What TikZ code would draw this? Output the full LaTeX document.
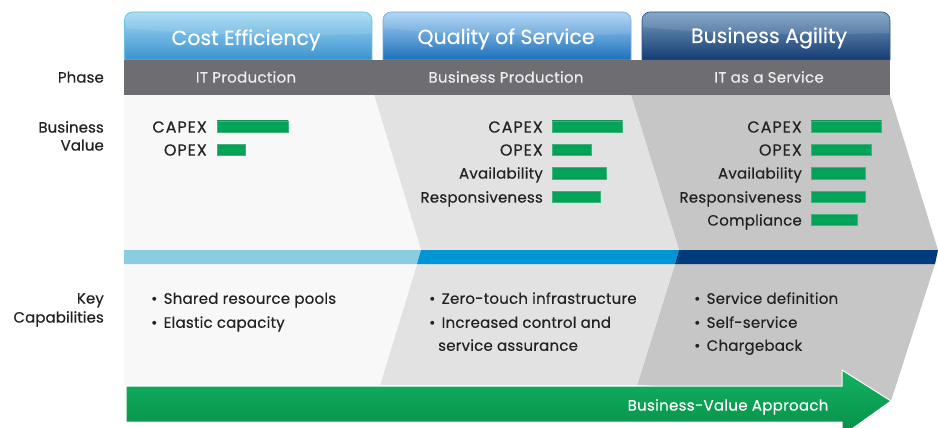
\documentclass[tikz,border=0pt]{standalone}
\usepackage{fontspec}
\setmainfont{Poppins}[FakeBold=0.4]
\definecolor{valA}{HTML}{0A9A57}
\definecolor{valB}{HTML}{0A9A55}
\definecolor{valC}{HTML}{00A85A}
\definecolor{valE}{HTML}{3DB57B}
\definecolor{barGrey}{HTML}{6E6D72}
\definecolor{panelA}{HTML}{F8F8F8}
\definecolor{panelB}{HTML}{E2E2E2}
\definecolor{panelC}{HTML}{C6C6C6}
\definecolor{stripA}{HTML}{8BCCE0}
\definecolor{stripB}{HTML}{0096D6}
\definecolor{stripC}{HTML}{003C7D}
\definecolor{labelGrey}{HTML}{EDEDED}
\definecolor{inkGrey}{HTML}{222222}
\definecolor{tabAt}{HTML}{A4DAF4}
\definecolor{tabAb}{HTML}{3A92CF}
\definecolor{tabAe}{HTML}{6CBDE6}
\definecolor{tabBt}{HTML}{AAD2F6}
\definecolor{tabBb}{HTML}{1B70BA}
\definecolor{tabBe}{HTML}{7FA6DC}
\definecolor{tabCt}{HTML}{7A9FC0}
\definecolor{tabCb}{HTML}{123B73}
\definecolor{tabCe}{HTML}{2F5590}
\definecolor{arrowT}{HTML}{12B260}
\definecolor{arrowB}{HTML}{078F48}
\tikzset{
  px/.style={x=1pt,y=-1pt},
  tabtext/.style={text=white,font=\fontsize{20.5}{22}\selectfont,inner sep=0pt,anchor=base,yshift=-7pt},
  phasetext/.style={text=#1,font=\fontsize{15}{17}\addfontfeatures{LetterSpace=2}\selectfont,inner sep=0pt,anchor=base,yshift=-5.6pt},
  rowlabel/.style={text=inkGrey,font=\fontsize{15}{17}\addfontfeatures{LetterSpace=.5}\selectfont,inner sep=0pt,anchor=base east,yshift=-5.6pt},
  metric/.style={text=inkGrey,font=\fontsize{15}{17}\addfontfeatures{LetterSpace=1.5}\selectfont,inner sep=0pt,anchor=base east,yshift=-5.6pt},
  capsmetric/.style={text=inkGrey,font=\fontsize{16}{17}\addfontfeatures{LetterSpace=6}\selectfont,inner sep=0pt,anchor=base east,yshift=-5.6pt},
  bullettext/.style={text=inkGrey,font=\fontsize{15}{17}\addfontfeatures{LetterSpace=1.5}\selectfont,inner sep=0pt,anchor=base west,yshift=-5.8pt},
  valuebar/.style={top color=valA,bottom color=valB,middle color=valC,draw=valE,line width=.5pt},
  gloss/.style={fill=white,fill opacity=.10},
}
\newcommand{\bul}{\makebox[12.5pt][l]{•}}
\begin{document}
\begin{tikzpicture}[px]
\useasboundingbox (0,0) rectangle (938,428);
% panels
\fill[panelC] (631,95) -- (890,95) -- (938,250) -- (935,264) -- (891,401) -- (850,395) -- (637,385) -- (675,264) -- (679,250) -- cycle;
\fill[panelB] (374,95) -- (631,95) -- (679,250) -- (675,264) -- (637,385) -- (380,385) -- (417,264) -- (421,250) -- cycle;
\fill[panelA] (124,95) -- (374,95) -- (421,250) -- (417,264) -- (380,385) -- (124,385) -- cycle;
% strip
\fill[stripA] (124,250) -- (421,250) -- (417,264) -- (124,264) -- cycle;
\fill[stripB] (421,250) -- (679,250) -- (675,264) -- (417,264) -- cycle;
\fill[stripC] (679,250) -- (938,250) -- (935,264) -- (675,264) -- cycle;
% tabs
\shade[top color=tabAt,bottom color=tabAb,draw=tabAe,line width=.6pt] (124.5,60) -- (124.5,30) [rounded corners=8pt] -- (124.5,12) -- (372,12) [sharp corners] -- (372,60) -- cycle;
\shade[top color=tabBt,bottom color=tabBb,draw=tabBe,line width=.6pt] (383,60) -- (383,30) [rounded corners=8pt] -- (383,12) -- (631,12) [sharp corners] -- (631,60) -- cycle;
\shade[top color=tabCt,bottom color=tabCb,draw=tabCe,line width=.6pt] (642,60) -- (642,30) [rounded corners=8pt] -- (642,12) -- (890,12) [sharp corners] -- (890,60) -- cycle;
% tab highlights
\fill[gloss] (125,28) -- (125,18) -- (131,13) -- (365,13) -- (371.5,18) -- (371.5,34) .. controls (300,36) and (200,36) .. (125,28) -- cycle;
\fill[gloss] (383.5,28) -- (383.5,18) -- (390,13) -- (624,13) -- (630.5,18) -- (630.5,34) .. controls (560,36) and (460,36) .. (383.5,28) -- cycle;
\fill[gloss] (642.5,27) -- (642.5,18) -- (649,13) -- (883,13) -- (889.5,18) -- (889.5,33) .. controls (820,35) and (720,35) .. (642.5,27) -- cycle;
% phase bar
\fill[barGrey] (124,60) rectangle (890,95);
% arrow
\shade[top color=arrowT,bottom color=arrowB,draw=white,line width=1pt] (126,386) -- (842,386) -- (842,370) -- (891,401) -- (842,436) -- (842,422) -- (126,422) -- cycle;
% tab titles
\node[tabtext] (t1) at (246,38) {Cost Efficiency};
\node[tabtext] (t2) at (506,37) {Quality of Service};
\node[tabtext] (t3) at (769,36) {Business Agility};
\node[phasetext=labelGrey] (p1) at (246,77) {IT Production};
\node[phasetext=labelGrey] (p2) at (506,77) {Business Production};
\node[phasetext=labelGrey] (p3) at (769,77) {IT as a Service};
\node[phasetext=white] (arrowlabel) at (728,405) {Business-Value Approach};
% row labels
\node[rowlabel] (rphase) at (104,77) {Phase};
\node[rowlabel] (rb1) at (104,127) {Business};
\node[rowlabel] (rb2) at (104,145) {Value};
\node[rowlabel] (rk1) at (104,298) {Key};
\node[rowlabel] (rk2) at (104,317) {Capabilities};
% column 1
\node[capsmetric] (a1) at (207,127) {CAPEX};
\node[capsmetric] (a2) at (207,150) {OPEX};
\draw[valuebar] (217,121) rectangle (288,132);
\draw[valuebar] (217,144.5) rectangle (245,155);
% column 2
\node[capsmetric] (b1) at (543,127) {CAPEX};
\node[capsmetric] (b2) at (543,150) {OPEX};
\node[metric] (b3) at (543,173) {Availability};
\node[metric] (b4) at (543,197) {Responsiveness};
\draw[valuebar] (552,121) rectangle (622.5,132);
\draw[valuebar] (552,144.5) rectangle (591.5,155);
\draw[valuebar] (552,167.5) rectangle (606.5,179);
\draw[valuebar] (552,191) rectangle (600.5,202);
% column 3
\node[capsmetric] (c1) at (802,127) {CAPEX};
\node[capsmetric] (c2) at (802,150) {OPEX};
\node[metric] (c3) at (802,173) {Availability};
\node[metric] (c4) at (802,197) {Responsiveness};
\node[metric] (c5) at (802,220) {Compliance};
\draw[valuebar] (811,121) rectangle (881.5,132);
\draw[valuebar] (811,144.5) rectangle (871.5,155);
\draw[valuebar] (811,167.5) rectangle (865,179);
\draw[valuebar] (811,191) rectangle (865,202);
\draw[valuebar] (811,214) rectangle (857,225);
% capabilities
\node[bullettext] (d1) at (151,298) {\bul Shared resource pools};
\node[bullettext] (d2) at (151,322) {\bul Elastic capacity};
\node[bullettext] (e1) at (429,298) {\bul Zero-touch infrastructure};
\node[bullettext] (e2) at (429,322) {\bul Increased control and};
\node[bullettext] (e3) at (438,345) {service assurance};
\node[bullettext] (f1) at (694,298) {\bul Service definition};
\node[bullettext] (f2) at (694,322) {\bul Self-service};
\node[bullettext] (f3) at (694,345) {\bul Chargeback};
\end{tikzpicture}
\end{document}
